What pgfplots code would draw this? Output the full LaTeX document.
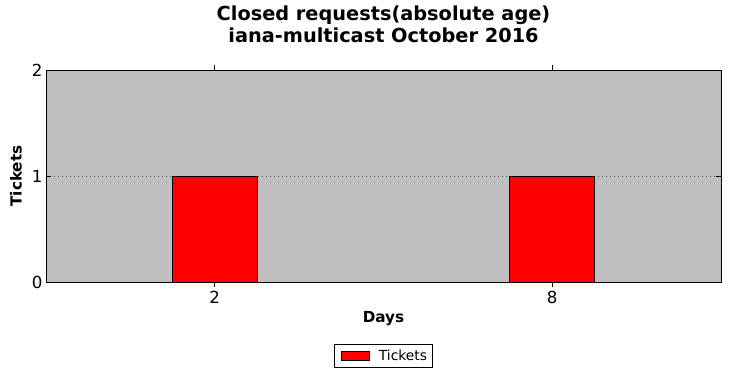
\documentclass[border=0pt]{standalone}
\usepackage{fontspec}
\setmainfont{DejaVu Sans}
\usepackage{pgfplots}
\pgfplotsset{compat=1.18}
\begin{document}
\begin{tikzpicture}[x=1bp,y=1bp]
\path[use as bounding box] (-46bp,-96bp) rectangle (684bp,282bp);
\begin{axis}[
  at={(0,0)}, anchor=south west,
  scale only axis, width=675bp, height=212bp,
  xmin=-0.5, xmax=1.5, ymin=0, ymax=2,
  xtick={0,1}, xticklabels={2,8},
  ytick={0,1,2},
  tick align=inside,
  major tick length=5bp,
  axis background/.style={fill=black!25},
  ymajorgrids,
  grid style={gray!70!black, line width=0.5pt, dash pattern=on 1bp off 3bp},
  axis line style={line width=0.8pt},
  tick style={black, line width=0.6pt},
  ybar, bar width=85bp,
  /pgf/number format/assume math mode=true,
  ticklabel style={font=\fontsize{16.7}{18}\selectfont},
  xticklabel style={yshift=-1bp},
  xlabel={\textbf{Days}}, ylabel={\textbf{Tickets}},
  xlabel style={font=\fontsize{15.3}{17}\selectfont, at={(axis description cs:0.5,-0.1745)}, anchor=center},
  ylabel style={font=\fontsize{15.3}{17}\selectfont, at={(axis description cs:-0.0444,0.5)}, anchor=center},
  title={\textbf{Closed requests(absolute age)}\\\textbf{iana-multicast October 2016}},
  title style={font=\fontsize{19.4}{22}\selectfont, align=center, at={(axis description cs:0.5,1)}, anchor=center, yshift=40bp},
  legend style={at={(axis description cs:0.5,-0.3467)}, anchor=center, draw=black, line width=0.6pt,
    font=\fontsize{13.9}{16}\selectfont, legend columns=1, inner sep=3.5pt},
  legend image code/.code={\path[draw=none,fill=none] (-3bp,0bp) -- (36bp,0bp);\draw[fill=red, draw=black, line width=0.6pt] (0bp,-4.5bp) rectangle (28bp,4.5bp);},
]
\addplot[fill=red, draw=black, line width=0.8pt] coordinates {(0,1) (1,1)};
\addlegendentry{Tickets}
\end{axis}
\end{tikzpicture}
\end{document}
